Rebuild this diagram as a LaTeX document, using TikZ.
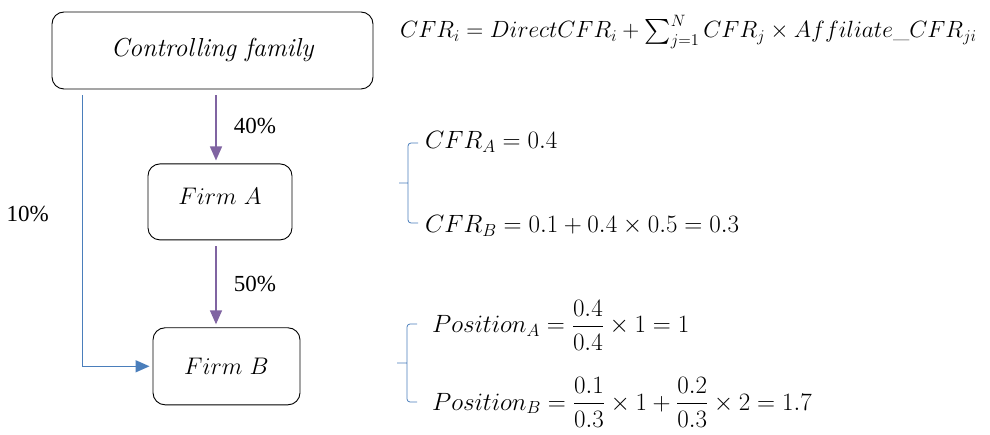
\RequirePackage{fix-cm}
\documentclass[tikz,border=0pt]{standalone}
\usepackage{amsmath}
\usepackage{fontspec}
\newfontfamily\pctfont{Liberation Serif}
\usetikzlibrary{arrows.meta, positioning, calc}
\definecolor{sharepurple}{HTML}{8064A2}
\definecolor{directblue}{HTML}{4A7EBB}
\tikzset{
  firm/.style={draw, rounded corners=12pt, line width=0.9pt, align=center, minimum height=77pt, font=\fontsize{24}{28}\selectfont},
  pct/.style={font=\pctfont\fontsize{23}{26}\selectfont, inner sep=0pt, text=black},
  eqn/.style={anchor=base west, inner sep=0pt, font=\fontsize{25}{30}\selectfont},
  share/.style={-{Triangle[length=14pt, width=12pt]}, line width=1.5pt, sharepurple, shorten <=6pt, shorten >=3pt},
  direct/.style={-{Triangle[length=14pt, width=12pt]}, line width=1.5pt, directblue, shorten <=6pt, shorten >=3pt},
  brace/.style={directblue, line width=0.8pt, rounded corners=3pt}
}

\begin{document}
\begin{tikzpicture}[x=1pt, y=-1pt]
    \useasboundingbox (0,0) rectangle (990,435);

    \node[firm, minimum width=321pt, font=\fontsize{26}{30}\selectfont] (family) at (212.5,50.5) {\textit{Controlling family}};
    \node[firm, minimum width=144pt, minimum height=76pt, below=74pt of family, xshift=7.5pt] (firmA) {\raisebox{12pt}{$Firm\ A$}};
    \node[firm, minimum width=147pt, below=87pt of firmA, xshift=6.5pt] (firmB) {$Firm\ B$};
    \coordinate (spine) at (216,0);

    \draw[share] (family.south -| spine) -- (firmA.north -| spine)
        node[pct, midway, right=17pt] (lab40) {40\%};
    \draw[share] (firmA.south -| spine) -- (firmB.north -| spine)
        node[pct, midway, right=17pt] (lab50) {50\%};
    \draw[direct] ([xshift=31pt]family.south west) |- (firmB.west)
        node[pct, pos=0.225, left=33pt] (lab10) {10\%};

    % formulas
    \node[eqn, font=\fontsize{23.5}{28}\selectfont] (eqdef) at (400,38) {$CFR_i = DirectCFR_i + \textstyle\sum_{j=1}^{N} CFR_j \times Affiliate\_CFR_{ji}$};
    \node[eqn] (cfrA) at (425,149) {$CFR_A = 0.4$};
    \node[eqn] (cfrB) at (425,233) {$CFR_B = 0.1 + 0.4 \times 0.5 = 0.3$};
    \node[eqn] (posA) at (432,333) {$Position_A = \dfrac{0.4}{0.4} \times 1 = 1$};
    \node[eqn] (posB) at (432,410) {$Position_B = \dfrac{0.1}{0.3} \times 1 + \dfrac{0.2}{0.3} \times 2 = 1.7$};

    \draw[brace] (418,143) -- (408,143) -- (408,223) -- (418,223) (408,183) -- (399,183);
    \draw[brace] (417,324) -- (407,324) -- (407,402) -- (417,402) (407,363) -- (397,363);
\end{tikzpicture}
\end{document}
